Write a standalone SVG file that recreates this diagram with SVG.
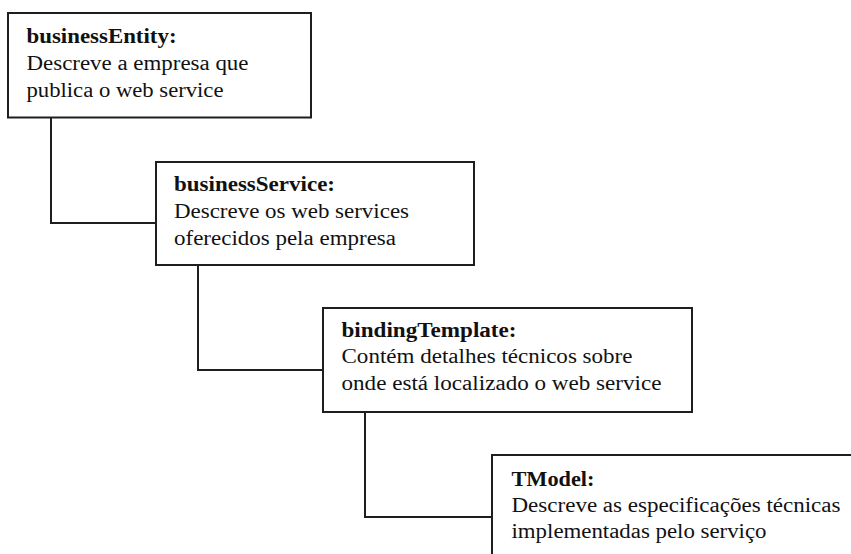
<svg xmlns="http://www.w3.org/2000/svg" width="851" height="554" viewBox="0 0 851 554">
  <style>
    .box { fill: #ffffff; stroke: #1e1e1e; stroke-width: 2; }
    .link { fill: none; stroke: #1e1e1e; stroke-width: 2; }
    text { font-family: "Liberation Serif", "Times New Roman", serif; font-size: 20px; fill: #111111; }
    .title { font-weight: bold; }
  </style>
  <rect width="851" height="554" fill="#ffffff"/>

  <!-- hierarchy links -->
  <g id="connectors">
    <polyline class="link" points="51,118 51,223 156,223"/>
    <polyline class="link" points="198,265 198,370 323,370"/>
    <polyline class="link" points="365,412 365,517 492,517"/>
  </g>

  <g id="businessEntity">
    <rect class="box" x="8" y="13" width="303" height="104.5"/>
    <text class="title" x="26.5" y="43" textLength="150" lengthAdjust="spacingAndGlyphs">businessEntity:</text>
    <text x="26.5" y="70" textLength="222" lengthAdjust="spacingAndGlyphs">Descreve a empresa que</text>
    <text x="26.5" y="97" textLength="197" lengthAdjust="spacingAndGlyphs">publica o web service</text>
  </g>

  <g id="businessService">
    <rect class="box" x="156" y="162" width="318" height="103"/>
    <text class="title" x="174" y="191" textLength="161" lengthAdjust="spacingAndGlyphs">businessService:</text>
    <text x="174" y="218" textLength="235" lengthAdjust="spacingAndGlyphs">Descreve os web services</text>
    <text x="174" y="245" textLength="222" lengthAdjust="spacingAndGlyphs">oferecidos pela empresa</text>
  </g>

  <g id="bindingTemplate">
    <rect class="box" x="323" y="308" width="369" height="104"/>
    <text class="title" x="341.5" y="337" textLength="175" lengthAdjust="spacingAndGlyphs">bindingTemplate:</text>
    <text x="341.5" y="363" textLength="291" lengthAdjust="spacingAndGlyphs">Contém detalhes técnicos sobre</text>
    <text x="341.5" y="390" textLength="320" lengthAdjust="spacingAndGlyphs">onde está localizado o web service</text>
  </g>

  <g id="TModel">
    <rect class="box" x="492" y="455" width="400" height="150"/>
    <text class="title" x="511.5" y="486" textLength="83" lengthAdjust="spacingAndGlyphs">TModel:</text>
    <text x="511.5" y="512" textLength="329" lengthAdjust="spacingAndGlyphs">Descreve as especificações técnicas</text>
    <text x="511.5" y="538" textLength="255" lengthAdjust="spacingAndGlyphs">implementadas pelo serviço</text>
  </g>
</svg>
